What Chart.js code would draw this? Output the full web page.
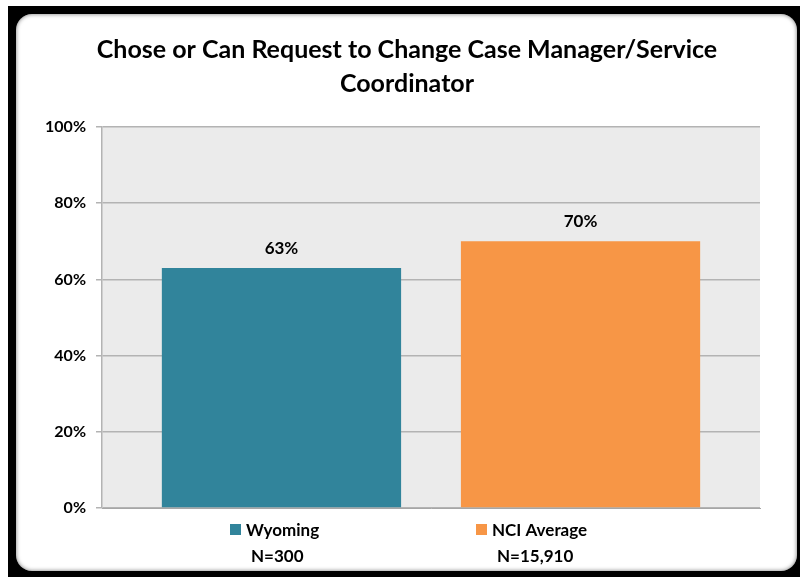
<!DOCTYPE html>
<html><head><meta charset="utf-8">
<script src="https://cdn.jsdelivr.net/npm/chart.js@4.4.1/dist/chart.umd.min.js"></script>
<style>
html,body{margin:0;padding:0;background:#fff;width:800px;height:577px;overflow:hidden;}
#frame{position:absolute;left:8px;top:6px;width:792px;height:571px;background:#000;}
#panel{position:absolute;left:16px;top:14px;width:781px;height:557px;background:#fff;border-radius:16px;box-shadow:inset 0 0 4px rgba(0,0,0,0.55);}
#wrap{position:absolute;left:0;top:0;width:800px;height:577px;}
</style></head>
<body>
<div id="frame"></div><div id="panel"></div>
<div id="wrap"><canvas id="c" width="800" height="577"></canvas></div>
<script>
const titleLines = ['Chose or Can Request to Change Case Manager/Service', 'Coordinator'];
const categories = [''];
const seriesNames = ['Wyoming', 'NCI Average'];
const sampleSizes = ['N=300', 'N=15,910'];
const seriesValues = [63, 70];
const seriesColors = ['#31849b', '#f79646'];
const yTickValues = [0, 20, 40, 60, 80, 100];

const FONT = 'Lato, "Open Sans", sans-serif';

const titlePlugin = {
  id: 'titleDraw',
  afterDraw(chart) {
    const ctx = chart.ctx;
    ctx.save();
    ctx.fillStyle = '#000';
    ctx.font = 'bold 25px ' + FONT;
    ctx.textAlign = 'center';
    ctx.textBaseline = 'alphabetic';
    const cx = 407;
    ctx.fillText(titleLines[0], cx, 58);
    ctx.fillText(titleLines[1], cx, 92);
    ctx.restore();
  }
};

const labelPlugin = {
  id: 'valueLabels',
  afterDatasetsDraw(chart) {
    const ctx = chart.ctx;
    ctx.save();
    ctx.fillStyle = '#000';
    ctx.font = 'bold 17px ' + FONT;
    ctx.textAlign = 'center';
    ctx.textBaseline = 'alphabetic';
    chart.data.datasets.forEach((ds, i) => {
      const meta = chart.getDatasetMeta(i);
      meta.data.forEach((bar, j) => {
        ctx.fillText(ds.data[j] + '%', bar.x, bar.y - 14);
      });
    });
    ctx.restore();
  }
};

const legendPlugin = {
  id: 'customLegend',
  afterDraw(chart, args, opts) {
    const ctx = chart.ctx;
    ctx.save();
    ctx.font = 'bold 17px ' + FONT;
    ctx.textBaseline = 'alphabetic';
    ctx.textAlign = 'left';
    chart.data.datasets.forEach((ds, i) => {
      const x = opts.itemX[i];
      ctx.fillStyle = ds.backgroundColor;
      ctx.fillRect(x, opts.row1 - 12, 11, 11);
      ctx.fillStyle = '#000';
      ctx.fillText(ds.label, x + 16, opts.row1);
      ctx.fillText(sampleSizes[i], x + 21, opts.row2);
    });
    ctx.restore();
  }
};

const plotBg = {
  id: 'plotBg',
  beforeDraw(chart) {
    const a = chart.chartArea;
    const ctx = chart.ctx;
    ctx.save();
    ctx.fillStyle = '#ebebeb';
    ctx.fillRect(a.left, a.top, a.right - a.left, a.bottom - a.top);
    ctx.restore();
  }
};

new Chart(document.getElementById('c'), {
  type: 'bar',
  data: {
    labels: categories,
    datasets: seriesNames.map((name, i) => ({
      label: name,
      data: [seriesValues[i]],
      backgroundColor: seriesColors[i],
      borderWidth: 0,
      categoryPercentage: 0.909,
      barPercentage: 0.8
    }))
  },
  options: {
    responsive: false,
    animation: false,
    layout: { padding: { left: 0, right: 40, top: 127, bottom: 69 } },
    plugins: {
      legend: { display: false },
      title: { display: false },
      tooltip: { enabled: false },
      customLegend: { itemX: [230, 476], row1: 536, row2: 562 }
    },
    scales: {
      x: {
        ticks: { display: false },
        grid: { display: false, drawTicks: false },
        border: { display: true, color: '#a6a6a6', width: 1 },
        afterFit(s) { s.height = 0; }
      },
      y: {
        min: 0, max: 100,
        afterBuildTicks(s) { s.ticks = yTickValues.map(v => ({ value: v })); },
        ticks: {
          callback: v => v + '%',
          color: '#000',
          font: { family: FONT, size: 16, weight: 'bold' },
          padding: 10
        },
        grid: { color: '#b3b3b3', lineWidth: 1.5, tickLength: 6 },
        border: { display: true, color: '#b3b3b3', width: 1.5 },
        afterFit(s) { s.width = 102; }
      }
    }
  },
  plugins: [plotBg, labelPlugin, titlePlugin, legendPlugin]
});
</script>
</body></html>
